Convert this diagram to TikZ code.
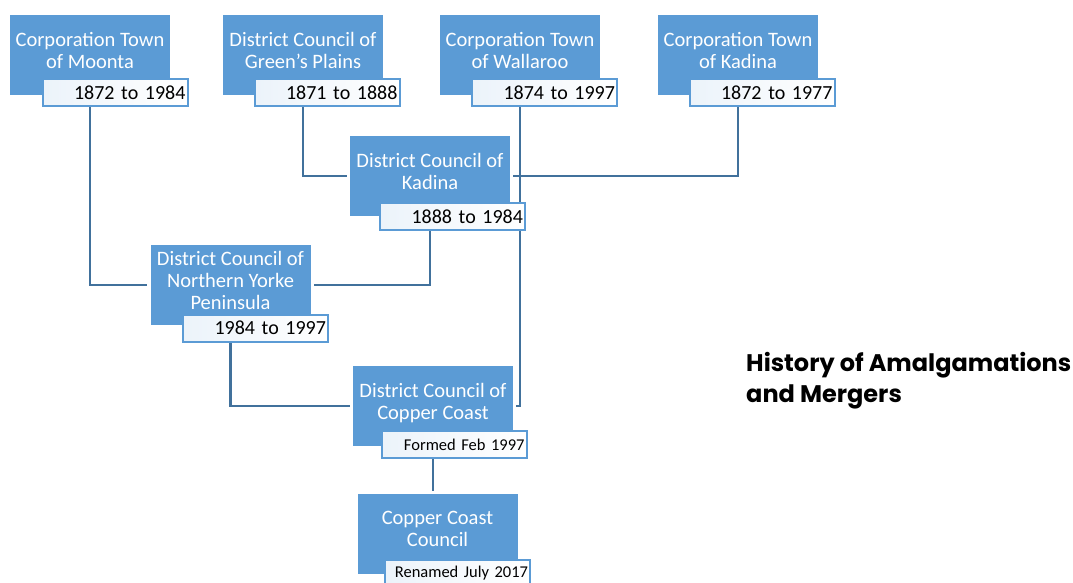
\documentclass[tikz,border=0pt]{standalone}
\usepackage{fontspec}
\setmainfont{Carlito}
\newfontfamily\titlefont{Poppins}
\usetikzlibrary{backgrounds}
\definecolor{boxblue}{HTML}{5B9BD5}
\definecolor{linkblue}{HTML}{41719C}

\begin{document}
\begin{tikzpicture}[
  x=1pt, y=-1pt,
  council/.style={fill=boxblue, text=white, align=center, inner sep=0pt, minimum width=160pt, minimum height=80pt, font=\fontsize{20.5}{22}\selectfont, execute at end node={\rule[-10pt]{0pt}{0pt}}},
  span/.style={draw=boxblue, line width=2pt, left color=boxblue!12, right color=white, align=right, text width=141pt, inner xsep=2pt, inner ysep=0pt, minimum height=27pt, font=\fontsize{20}{22}\selectfont},
  note/.style={span, font=\fontsize{16.5}{20}\selectfont},
  link/.style={draw=linkblue, line width=2.5pt, shorten >=3pt},
  heading/.style={anchor=north west, align=left, inner sep=0pt, font=\titlefont\bfseries\fontsize{24}{31}\selectfont},
]
  \useasboundingbox (0,0) rectangle (1073,583);
  % top row
  \node[council] (moonta) at (90,55) {Corporation Town\\of Moonta};
  \node[span] (moontaD) at (115,92.5) {1872 to 1984};
  \node[council] (greens) at (303,55) {District Council of\\Green's Plains};
  \node[span] (greensD) at (327,92.5) {1871 to 1888};
  \node[council] (wallaroo) at (520,55) {Corporation Town\\of Wallaroo};
  \node[span] (wallarooD) at (544.5,92.5) {1874 to 1997};
  \node[council] (kadinaT) at (738,55) {Corporation Town\\of Kadina};
  \node[span] (kadinaTD) at (762,92.5) {1872 to 1977};
  % mergers
  \node[council] (dcKadina) at (430,176) {District Council of\\Kadina};
  \node[span] (dcKadinaD) at (452.5,216.5) {1888 to 1984};
  \node[council] (nyp) at (230.5,285) {District Council of\\Northern Yorke\\Peninsula};
  \node[span] (nypD) at (255.5,328) {1984 to 1997};
  \node[council] (dccc) at (433,406) {District Council of\\Copper Coast};
  \node[note] (dcccD) at (454,444.5) {Formed Feb 1997};
  \node[council] (ccc) at (437.5,534) {Copper Coast\\Council};
  \node[note] (cccD) at (457.5,573) {Renamed July 2017};
  \node[heading] (title) at (746,352) {History of Amalgamations\\and Mergers};
  \begin{scope}[on background layer]
    \draw[link] (moonta) |- (nyp.west);
    \draw[link] (greens) |- (dcKadina.west);
    \draw[link] (kadinaT) |- (dcKadina.east);
    \draw[link] (wallaroo) |- (dccc.east);
    \draw[link] (dcKadina) |- (nyp.east);
    \draw[link] (nyp) |- (dccc.west);
    \draw[link] (dccc) -- (dccc |- ccc.north);
  \end{scope}
\end{tikzpicture}
\end{document}
